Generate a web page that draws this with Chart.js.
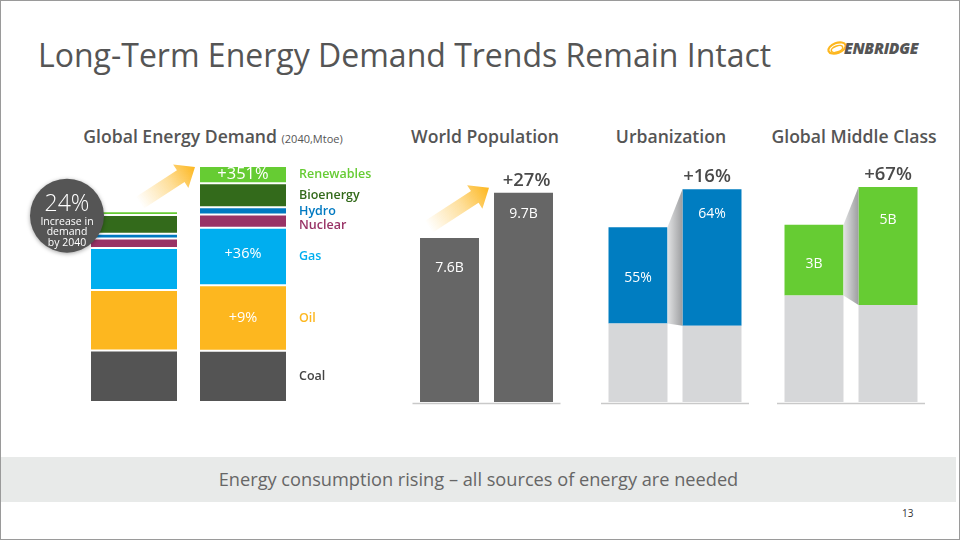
<!DOCTYPE html>
<html>
<head>
<meta charset="utf-8">
<script src="https://cdn.jsdelivr.net/npm/chart.js@4.4.1/dist/chart.umd.min.js"></script>
<style>
  html, body { margin: 0; padding: 0; background: #fff; }
  #slide { position: relative; width: 960px; height: 540px; overflow: hidden; font-family: "Open Sans", sans-serif; background: #fff; }
  .frame { position: absolute; left: 0; top: 0; width: 960px; height: 540px; box-sizing: border-box; border: 1px solid #9a9a9a; pointer-events: none; }
  .title { position: absolute; left: 38px; top: 35px; font-size: 32px; line-height: 40px; color: #555; white-space: nowrap; }
  .head { position: absolute; top: 124px; font-size: 17.6px; line-height: 24px; font-weight: 600; color: #555; white-space: nowrap; transform: translateX(-50%); }
  .head small { font-size: 11px; font-weight: 400; }
  canvas { position: absolute; }
  .footer { position: absolute; left: 1px; top: 457px; width: 955px; height: 45px; background: #e8eae9; color: #666; font-size: 18.2px; line-height: 45px; text-align: center; }
  .page { position: absolute; left: 902px; top: 506px; font-size: 10px; color: #333; }
  .logo { position: absolute; left: 826px; top: 36px; }
  .logo span { position: absolute; left: 18px; top: 1px; font-size: 15.5px; font-weight: 800; font-style: italic; color: #555; letter-spacing: -0.3px; white-space: nowrap; }
</style>
</head>
<body>
<div id="slide">
  <div class="title">Long-Term Energy Demand Trends Remain Intact</div>
  <div class="logo">
    <svg width="24" height="24" viewBox="0 0 24 24">
      <ellipse cx="11" cy="12" rx="9" ry="5" fill="none" stroke="#fdb71f" stroke-width="2.2" transform="rotate(-20 11 12)"/>
      <ellipse cx="11" cy="13" rx="6" ry="3" fill="none" stroke="#fdb71f" stroke-width="1.6" transform="rotate(-20 11 13)"/>
    </svg>
    <span>ENBRIDGE</span>
  </div>

  <div class="head" style="left:213px">Global Energy Demand <small>(2040,Mtoe)</small></div>
  <div class="head" style="left:485px">World Population</div>
  <div class="head" style="left:671px">Urbanization</div>
  <div class="head" style="left:854px">Global Middle Class</div>

  <canvas id="energyChart" width="370" height="260" style="left:20px; top:150px"></canvas>
  <canvas id="populationChart" width="163" height="260" style="left:405px; top:150px"></canvas>
  <canvas id="urbanChart" width="170" height="260" style="left:590px; top:150px"></canvas>
  <canvas id="middleChart" width="175" height="260" style="left:765px; top:150px"></canvas>

  <div class="footer">Energy consumption rising – all sources of energy are needed</div>
  <div class="page">13</div>
  <div class="frame"></div>
</div>

<script>
  // energy demand (Mtoe), stacked bottom to top
  const energyYears = ["2016", "2040"];
  const energySources = ["Coal", "Oil", "Gas", "Nuclear", "Hydro", "Bioenergy", "Renewables"];
  const energy2016 = [3750, 4390, 3070, 680, 350, 1360, 280];
  const energy2040 = [3720, 4780, 4180, 950, 530, 1750, 1260];
  const energyGrowth = ["", "+9%", "+36%", "", "", "", "+351%"];
  const energyColors = ["#545454", "#fdb71f", "#00aeef", "#993366", "#0079c1", "#336a1b", "#66cc33"];
  const demandIncrease = "24%";
  const demandNote = ["Increase in", "demand", "by 2040"];

  // world population (billions)
  const populationYears = ["2017", "2040"];
  const population = [7.6, 9.7];
  const populationLabels = ["7.6B", "9.7B"];
  const populationChange = "+27%";

  // urbanization (billions, rural below urban)
  const urbanYears = ["2017", "2040"];
  const ruralPop = [3.5, 3.4];
  const urbanPop = [4.3, 6.1];
  const urbanLabels = ["55%", "64%"];
  const urbanChange = "+16%";

  // middle class (billions)
  const middleYears = ["2017", "2040"];
  const otherPop = [4.5, 4.1];
  const middleClass = [3, 5];
  const middleLabels = ["3B", "5B"];
  const middleChange = "+67%";

  const FONT = '"Open Sans", sans-serif';
  const GREY = "#d6d7d9";

  const drawArrow = (ctx, tipX, tipY, angleDeg, len) => {
    const a = (angleDeg * Math.PI) / 180;
    const dx = Math.cos(a);
    const dy = -Math.sin(a);
    const px = -dy;
    const py = dx;
    const shaft = 14;
    const headW = 28;
    const headL = 17;
    const tailX = tipX - dx * len;
    const tailY = tipY - dy * len;
    const baseX = tipX - dx * headL;
    const baseY = tipY - dy * headL;
    const grad = ctx.createLinearGradient(tailX, tailY, tipX, tipY);
    grad.addColorStop(0, "rgba(253,183,31,0)");
    grad.addColorStop(0.55, "rgba(253,183,31,0.45)");
    grad.addColorStop(1, "rgba(253,183,31,1)");
    ctx.save();
    ctx.beginPath();
    ctx.moveTo(tailX + (px * shaft) / 2, tailY + (py * shaft) / 2);
    ctx.lineTo(baseX + (px * shaft) / 2, baseY + (py * shaft) / 2);
    ctx.lineTo(baseX + (px * headW) / 2, baseY + (py * headW) / 2);
    ctx.lineTo(tipX, tipY);
    ctx.lineTo(baseX - (px * headW) / 2, baseY - (py * headW) / 2);
    ctx.lineTo(baseX - (px * shaft) / 2, baseY - (py * shaft) / 2);
    ctx.lineTo(tailX - (px * shaft) / 2, tailY - (py * shaft) / 2);
    ctx.closePath();
    ctx.fillStyle = grad;
    ctx.fill();
    ctx.restore();
  };

  const segment = (el) => ({
    left: el.x - el.width / 2,
    right: el.x + el.width / 2,
    top: Math.min(el.y, el.base),
    bottom: Math.max(el.y, el.base),
    x: el.x,
  });

  const energyDecor = {
    id: "energyDecor",
    afterDatasetsDraw(chart) {
      const ctx = chart.ctx;
      const n = chart.data.datasets.length;
      const right = [];
      for (let i = 0; i < n; i++) {
        right.push(segment(chart.getDatasetMeta(i).data[1]));
      }
      ctx.save();
      ctx.textBaseline = "middle";

      // source names to the right, top down, kept apart
      ctx.textAlign = "left";
      ctx.font = "600 12.5px " + FONT;
      let lastY = -Infinity;
      for (let i = n - 1; i >= 0; i--) {
        let y = (right[i].top + right[i].bottom) / 2;
        if (y < lastY + 14) y = lastY + 14;
        lastY = y;
        ctx.fillStyle = i === 0 ? "#444" : energyColors[i];
        ctx.fillText(energySources[i], right[i].right + 12, y);
      }

      // growth labels in the 2040 bar
      ctx.textAlign = "center";
      ctx.fillStyle = "#fff";
      energyGrowth.forEach((txt, i) => {
        if (!txt) return;
        ctx.font = (i === n - 1 ? "500 16.5px " : "500 14.5px ") + FONT;
        ctx.fillText(txt, right[i].x, (right[i].top + right[i].bottom) / 2 - (i === 2 ? 3 : 0));
      });

      // arrow up to the 2040 bar
      const topRight = right[n - 1];
      drawArrow(ctx, topRight.left - 4, topRight.top + 1, 33, 66);

      // badge circle
      const leftTop = segment(chart.getDatasetMeta(n - 1).data[0]);
      const cx = leftTop.left - 23;
      const cy = leftTop.top + 4.5;
      ctx.save();
      ctx.shadowColor = "rgba(0,0,0,0.35)";
      ctx.shadowBlur = 4;
      ctx.shadowOffsetY = 1;
      ctx.beginPath();
      ctx.arc(cx, cy, 37, 0, Math.PI * 2);
      ctx.fillStyle = "#555";
      ctx.fill();
      ctx.restore();
      ctx.fillStyle = "#fff";
      ctx.font = "300 23px " + FONT;
      ctx.fillText(demandIncrease, cx, cy - 11);
      ctx.font = "400 10.5px " + FONT;
      demandNote.forEach((line, k) => ctx.fillText(line, cx, cy + 6 + k * 10.5));
      ctx.restore();
    },
  };

  const smallDecor = {
    id: "smallDecor",
    afterDatasetsDraw(chart, args, opts) {
      const ctx = chart.ctx;
      const area = chart.chartArea;
      const last = chart.data.datasets.length - 1;
      const lower = chart.getDatasetMeta(0).data.map(segment);
      const upper = chart.getDatasetMeta(last).data.map(segment);
      ctx.save();

      // base line
      ctx.strokeStyle = "#c9c9c9";
      ctx.lineWidth = 1.5;
      ctx.beginPath();
      ctx.moveTo(area.left, area.bottom + 1.5);
      ctx.lineTo(area.right, area.bottom + 1.5);
      ctx.stroke();

      // folded connector between the bars
      if (opts.connector) {
        const grad = ctx.createLinearGradient(upper[0].right, 0, upper[1].left, 0);
        grad.addColorStop(0, "#e2e3e4");
        grad.addColorStop(1, "#9d9ea0");
        ctx.beginPath();
        ctx.moveTo(upper[0].right, upper[0].top);
        ctx.lineTo(upper[1].left, upper[1].top);
        ctx.lineTo(upper[1].left, lower[1].top);
        ctx.lineTo(upper[0].right, lower[0].top);
        ctx.closePath();
        ctx.fillStyle = grad;
        ctx.fill();
      }

      if (opts.arrow) {
        drawArrow(ctx, upper[1].left - 5, upper[1].top - 5, 33, 72);
      }

      ctx.textAlign = "center";
      ctx.textBaseline = "middle";
      ctx.fillStyle = "#fff";
      ctx.font = "400 14px " + FONT;
      opts.labels.forEach((txt, j) => {
        ctx.fillText(txt, upper[j].x, upper[j].top + opts.offsets[j]);
      });

      ctx.fillStyle = "#4a4a4a";
      ctx.font = "600 18.5px " + FONT;
      ctx.fillText(opts.change, upper[1].x + opts.changeDx, upper[1].top - 12);
      ctx.restore();
    },
  };

  const baseOptions = (yMax, padL, padR, plugin) => ({
    responsive: false,
    animation: false,
    devicePixelRatio: 1,
    layout: { padding: { left: padL, right: padR, top: 0, bottom: 8 } },
    scales: {
      x: { display: false, stacked: true },
      y: { display: false, stacked: true, min: 0, max: yMax },
    },
    plugins: { legend: { display: false }, tooltip: { enabled: false }, smallDecor: plugin },
  });

  // Global energy demand
  new Chart(document.getElementById("energyChart"), {
    type: "bar",
    data: {
      labels: energyYears,
      datasets: energySources.map((name, i) => ({
        label: name,
        data: [energy2016[i], energy2040[i]],
        backgroundColor: energyColors[i],
        borderColor: "#fff",
        borderWidth: 1,
        borderSkipped: false,
        barPercentage: 88 / 109,
        categoryPercentage: 1,
      })),
    },
    options: baseOptions(18330, 59.5, 92.5, false),
    plugins: [energyDecor],
  });

  const smallBar = (data, color) => ({
    data: data,
    backgroundColor: color,
    borderWidth: 0,
    barPercentage: 0.797,
    categoryPercentage: 1,
  });

  // World population
  new Chart(document.getElementById("populationChart"), {
    type: "bar",
    data: {
      labels: populationYears,
      datasets: [smallBar(population, "#666666")],
    },
    options: baseOptions(11.68, 7.5, 7.5, {
      labels: populationLabels,
      offsets: [30, 21],
      change: populationChange,
      changeDx: 3,
      arrow: true,
      connector: false,
    }),
    plugins: [smallDecor],
  });

  // Urbanization
  new Chart(document.getElementById("urbanChart"), {
    type: "bar",
    data: {
      labels: urbanYears,
      datasets: [smallBar(ruralPop, GREY), smallBar(urbanPop, "#007dc1")],
    },
    options: baseOptions(11.25, 11, 11, {
      labels: urbanLabels,
      offsets: [51, 25],
      change: urbanChange,
      changeDx: -5,
      arrow: false,
      connector: true,
    }),
    plugins: [smallDecor],
  });

  // Global middle class
  new Chart(document.getElementById("middleChart"), {
    type: "bar",
    data: {
      labels: middleYears,
      datasets: [smallBar(otherPop, GREY), smallBar(middleClass, "#66cc33")],
    },
    options: baseOptions(10.66, 12, 15, {
      labels: middleLabels,
      offsets: [39, 33],
      change: middleChange,
      changeDx: 0,
      arrow: false,
      connector: true,
    }),
    plugins: [smallDecor],
  });
</script>
</body>
</html>
